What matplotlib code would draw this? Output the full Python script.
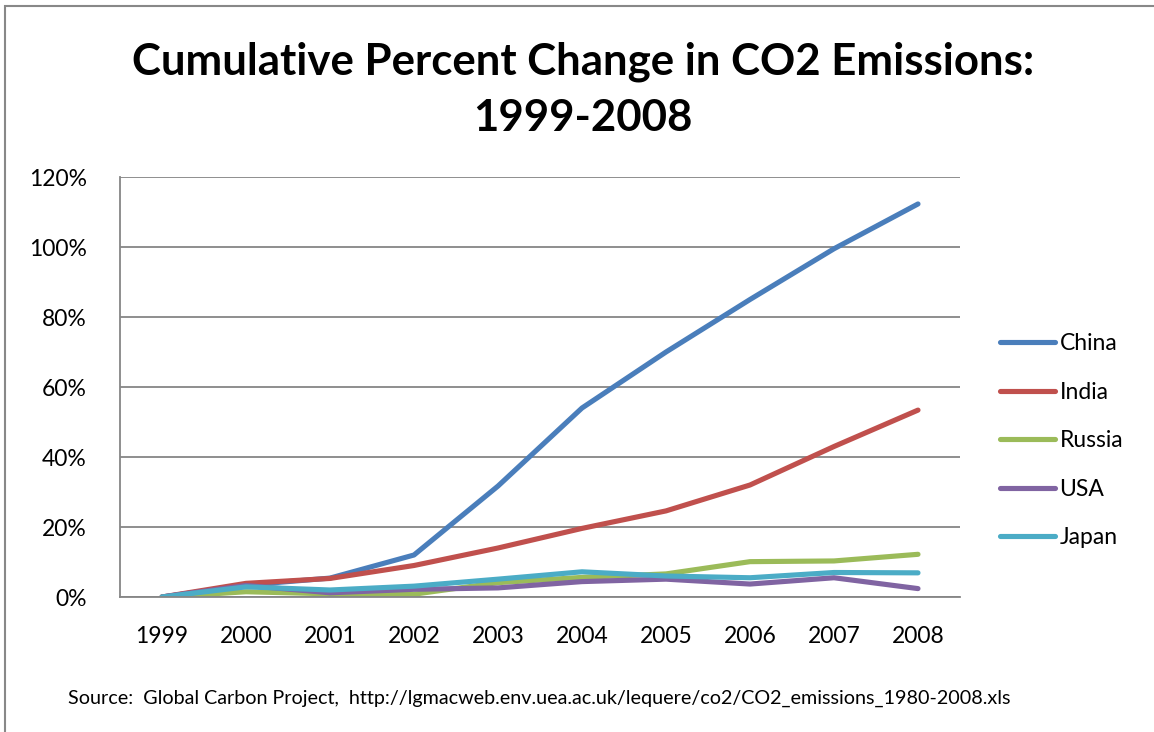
import matplotlib.pyplot as plt
from matplotlib.patches import Rectangle
from matplotlib.ticker import FuncFormatter

# cumulative change in CO2 emissions, percent over 1999
years = ['1999', '2000', '2001', '2002', '2003', '2004', '2005', '2006', '2007', '2008']
china = [0, 3.4, 5.4, 12.0, 31.7, 54.0, 70.0, 85.0, 99.5, 112.3]
india = [0, 3.9, 5.3, 9.0, 14.0, 19.6, 24.6, 32.0, 43.0, 53.4]
russia = [0, 1.5, 0.9, 0.8, 4.1, 5.6, 6.6, 10.1, 10.3, 12.2]
usa = [0, 3.3, 1.2, 2.2, 2.6, 4.4, 5.1, 3.7, 5.5, 2.4]
japan = [0, 2.9, 2.0, 3.1, 5.1, 7.2, 6.0, 5.5, 7.0, 6.9]

series = [('China', china, '#4A7EBB'),
          ('India', india, '#C0504D'),
          ('Russia', russia, '#9BBB59'),
          ('USA', usa, '#8064A2'),
          ('Japan', japan, '#4BACC6')]

plt.rcParams['font.family'] = ['Lato', 'DejaVu Sans']

W, H = 1154, 732
fig = plt.figure(figsize=(W / 100, H / 100), dpi=100)
ax = fig.add_axes([120 / W, 1 - 597 / H, 840 / W, 420 / H])

x = range(len(years))
for name, vals, col in series:
    ax.plot(x, vals, color=col, lw=3.7, label=name,
            solid_capstyle='round', solid_joinstyle='round')

ax.set_xlim(-0.5, len(years) - 0.5)
ax.set_ylim(0, 120)
ax.set_yticks(range(0, 121, 20))
ax.yaxis.set_major_formatter(FuncFormatter(lambda v, p: '%d%%' % v))
ax.set_xticks(list(x))
ax.set_xticklabels(years)
ax.tick_params(axis='both', length=0, labelsize=16.5, colors='black')
ax.tick_params(axis='x', pad=21)
ax.tick_params(axis='y', pad=24)
ax.grid(axis='y', color='#868686', lw=1.3)
ax.set_axisbelow(True)
for s in ['top', 'right']:
    ax.spines[s].set_visible(False)
for s in ['left', 'bottom']:
    ax.spines[s].set_color('#868686')
    ax.spines[s].set_linewidth(1.3)

leg = ax.legend(loc='center left', bbox_to_anchor=(1000 / W, 1 - 441 / H),
                bbox_transform=fig.transFigure, frameon=False, fontsize=16.5,
                borderaxespad=0, borderpad=0,
                handlelength=2.4, handletextpad=0.2, labelspacing=1.2)

fig.text(0.505, 1 - 62 / H, 'Cumulative Percent Change in CO2 Emissions:',
         ha='center', va='center', fontsize=31.5, fontweight='bold')
fig.text(0.505, 1 - 118 / H, '1999-2008',
         ha='center', va='center', fontsize=31.5, fontweight='bold')
fig.text(68 / W, 1 - 698 / H,
         'Source:  Global Carbon Project,  http://lgmacweb.env.uea.ac.uk/lequere/co2/CO2_emissions_1980-2008.xls',
         ha='left', va='center', fontsize=14.2)

# chart frame
fig.patches.append(Rectangle((5 / W, -0.1), 1.2, 1 - 6 / H + 0.1,
                             transform=fig.transFigure, fill=False,
                             edgecolor='#888888', lw=1.5))

fig.savefig('out.png', dpi=100)
